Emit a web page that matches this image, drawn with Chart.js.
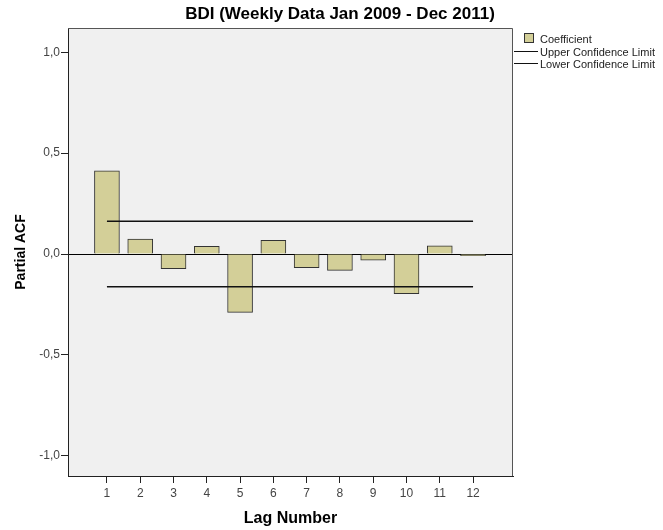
<!DOCTYPE html>
<html>
<head>
<meta charset="utf-8">
<script src="https://cdn.jsdelivr.net/npm/chart.js"></script>
<style>
  body { margin: 0; background: #fff; overflow: hidden; font-family: "Liberation Sans", Arial, sans-serif; }
  #wrap { position: relative; width: 663px; height: 530px; }
  #title { position: absolute; left: 340px; top: 4px; transform: translateX(-50%); white-space: nowrap;
           font-size: 17px; font-weight: bold; line-height: 20px; color: #000; }
  .leg { position: absolute; left: 540px; height: 12px; line-height: 12px; font-size: 11px; color: #222; white-space: nowrap; }
  .box { position: absolute; left: 524px; top: 33px; width: 8px; height: 8px; background: #d3cf98; border: 1px solid #333; }
  .ln { position: absolute; left: 514px; width: 24px; height: 0; border-top: 1px solid #111; }
</style>
</head>
<body>
<div id="wrap">
  <canvas id="pacfChart" width="663" height="530"></canvas>
  <div id="title">BDI (Weekly Data Jan 2009 - Dec 2011)</div>
  <div class="box"></div>
  <div class="leg" style="top:33px">Coefficient</div>
  <div class="ln" style="top:51px"></div>
  <div class="leg" style="top:46px">Upper Confidence Limit</div>
  <div class="ln" style="top:63px"></div>
  <div class="leg" style="top:58px">Lower Confidence Limit</div>
</div>
<script>
let lags = [1, 2, 3, 4, 5, 6, 7, 8, 9, 10, 11, 12];
let pacf = [0.412, 0.074, -0.073, 0.038, -0.289, 0.068, -0.068, -0.081, -0.030, -0.196, 0.041, -0.008];
let upperLimit = 0.162;
let lowerLimit = -0.162;
let yTicks = [-1, -0.5, 0, 0.5, 1];

let plotFrame = {
    id: 'plotFrame',
    beforeDraw(chart) {
        let ctx = chart.ctx, a = chart.chartArea;
        ctx.save();
        ctx.fillStyle = '#f0f0f0';
        ctx.fillRect(a.left, a.top, a.right - a.left, a.bottom - a.top);
        ctx.restore();
    },
    afterDraw(chart) {
        let ctx = chart.ctx, a = chart.chartArea;
        ctx.save();
        ctx.strokeStyle = '#555';
        ctx.lineWidth = 1;
        ctx.beginPath();
        ctx.moveTo(a.left, a.top + 0.5);
        ctx.lineTo(a.right - 0.5, a.top + 0.5);
        ctx.lineTo(a.right - 0.5, a.bottom);
        ctx.stroke();
        ctx.restore();
    }
};

function limitLine(v) {
    return [{ x: lags[0], y: v }, { x: lags[lags.length - 1], y: v }];
}

Chart.defaults.font.family = '"Liberation Sans", Arial, sans-serif';

let ctx = document.getElementById('pacfChart').getContext('2d');
let chart = new Chart(ctx, {
    type: 'bar',
    data: {
        datasets: [{
            type: 'bar',
            label: 'Coefficient',
            data: lags.map((l, i) => ({ x: l, y: pacf[i] })),
            backgroundColor: '#d3cf98',
            borderColor: '#333',
            borderWidth: 1,
            barThickness: 25,
            order: 2
        }, {
            type: 'line',
            label: 'Upper Confidence Limit',
            data: limitLine(upperLimit),
            borderColor: '#111',
            borderWidth: 1.5,
            pointRadius: 0,
            order: 1
        }, {
            type: 'line',
            label: 'Lower Confidence Limit',
            data: limitLine(lowerLimit),
            borderColor: '#111',
            borderWidth: 1.5,
            pointRadius: 0,
            order: 1
        }]
    },
    options: {
        responsive: false,
        animation: false,
        layout: { padding: { left: 0, right: 150, top: 28, bottom: 0 } },
        plugins: {
            legend: { display: false },
            tooltip: { enabled: false },
            title: { display: false }
        },
        scales: {
            x: {
                type: 'linear',
                offset: false,
                min: -0.17,
                max: 13.2,
                afterFit: (s) => { s.height = 54; },
                afterBuildTicks: (s) => { s.ticks = lags.map(v => ({ value: v })); },
                border: { display: true, color: '#222' },
                grid: { offset: false, drawOnChartArea: false, tickColor: '#222', tickLength: 7 },
                ticks: { padding: 3, color: '#444', font: { size: 12 }, autoSkip: false, maxRotation: 0,
                         callback: (v) => String(v) },
                title: { display: true, text: 'Lag Number', color: '#000',
                         font: { size: 16, weight: 'bold' }, padding: { top: 0, bottom: 2 } }
            },
            y: {
                min: -1.1,
                max: 1.12,
                afterFit: (s) => { s.width = 68; },
                afterBuildTicks: (s) => { s.ticks = yTicks.map(v => ({ value: v })); },
                border: { display: true, color: '#222' },
                grid: {
                    color: (c) => (c.tick && c.tick.value === 0) ? '#000' : 'rgba(0,0,0,0)',
                    tickColor: '#222',
                    tickLength: 7
                },
                ticks: { padding: 1, color: '#444', font: { size: 12 },
                         callback: (v) => v.toFixed(1).replace('.', ',') },
                title: { display: true, text: 'Partial ACF', color: '#000',
                         font: { size: 14, weight: 'bold' }, padding: { top: 13, bottom: 0 } }
            }
        }
    },
    plugins: [plotFrame]
});
</script>
</body>
</html>
